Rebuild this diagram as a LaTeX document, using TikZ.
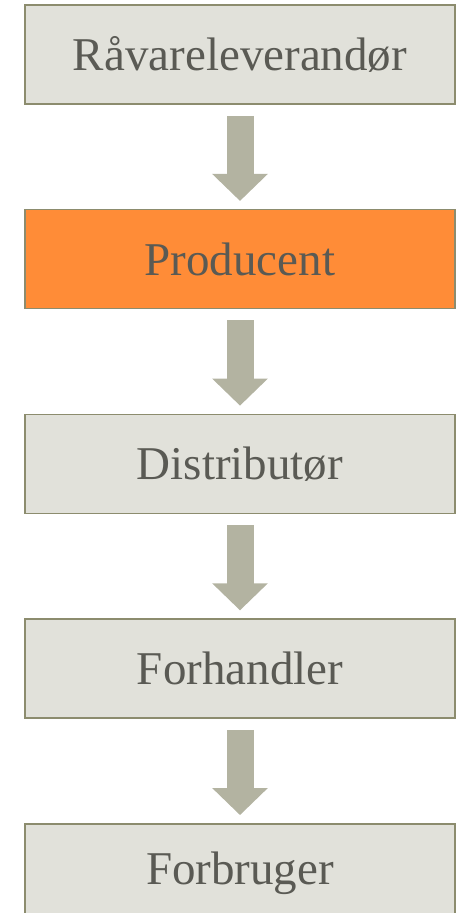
\documentclass[tikz,border=0pt]{standalone}
\usepackage{fontspec}
\setmainfont{Liberation Serif}
\usepackage{xcolor}
\usepackage{tikz}
\usetikzlibrary{arrows.meta,positioning}
\definecolor{boxgray}{RGB}{225,225,218}
\definecolor{boxline}{RGB}{140,140,110}
\definecolor{boxorange}{RGB}{255,140,55}
\definecolor{arrowgray}{RGB}{179,179,161}
\definecolor{textgray}{RGB}{90,90,84}

\begin{document}
\begin{tikzpicture}[x=1pt,y=-1pt,
    stage/.style={draw=boxline,line width=1.5pt,fill=boxgray,minimum width=430pt,minimum height=99pt,
      text=textgray,font=\fontsize{47}{56}\selectfont,inner sep=0pt},
    flow/.style={draw=arrowgray,line width=27pt,-{Triangle[width=54pt,length=27pt]},
      shorten <=11pt,shorten >=8pt},
    node distance=104.2pt]
      \useasboundingbox (0,0) rectangle (464,913);
      \node[stage] (raw) at (240,54.5) {Råvareleverandør};
      \node[stage,fill=boxorange,below=of raw] (prod) {Producent};
      \node[stage,below=of prod] (dist) {Distributør};
      \node[stage,below=of dist] (shop) {Forhandler};
      \node[stage,below=of shop] (cons) {Forbruger};
      \draw[flow] (raw.south) -- (prod.north);
      \draw[flow] (prod.south) -- (dist.north);
      \draw[flow] (dist.south) -- (shop.north);
      \draw[flow] (shop.south) -- (cons.north);
    \end{tikzpicture}
\end{document}
